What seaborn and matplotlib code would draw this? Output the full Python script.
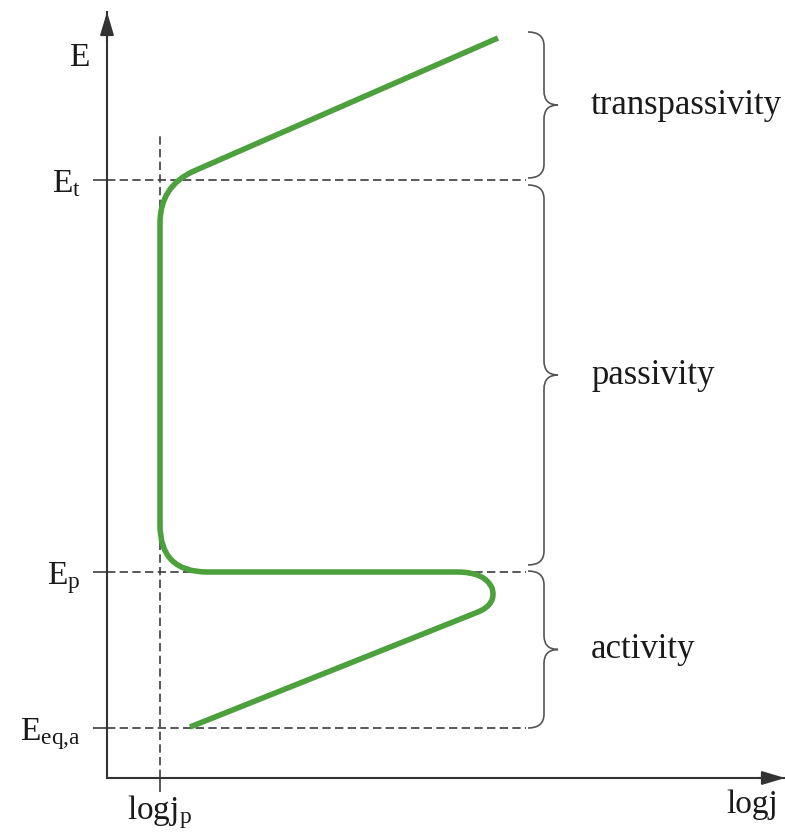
import matplotlib
matplotlib.use("Agg")
import matplotlib.pyplot as plt
from matplotlib.path import Path
from matplotlib.patches import PathPatch
import seaborn as sns

# --- schematic polarization curve (arbitrary units: logj on x, E on y) ---
level_values = [0.50, 2.06, 5.98]                      # E_eq,a, E_p, E_t
level_labels = ["E$_\\mathrm{eq{,}a}$", "E$_\\mathrm{p}$", "E$_\\mathrm{t}$"]
logj_p = 0.53
logj_p_label = "logj$_\\mathrm{p}$"

# curve nodes: straight segments plus quadratic corner controls
curve_x = [0.83, 3.71, 3.90, 3.85, 3.78, 3.50, 1.00, 0.53, 0.53, 0.53, 0.53, 0.87, 3.91]
curve_y = [0.51, 1.66, 1.74, 1.90, 2.06, 2.06, 2.06, 2.06, 2.53, 5.55, 5.92, 6.07, 7.40]
curve_codes = [Path.MOVETO, Path.LINETO, Path.CURVE3, Path.CURVE3, Path.CURVE3, Path.CURVE3,
               Path.LINETO, Path.CURVE3, Path.CURVE3, Path.LINETO, Path.CURVE3, Path.CURVE3,
               Path.LINETO]

# regions marked with braces
region_names = ["transpassivity", "passivity", "activity"]
region_low = [6.00, 2.13, 0.50]
region_high = [7.46, 5.93, 2.07]

guide_end = 4.19
guide_top = 6.45

sns.set_theme(style="white")
plt.rcParams["font.family"] = ["Liberation Serif", "DejaVu Serif"]
plt.rcParams["mathtext.fontset"] = "custom"
plt.rcParams["mathtext.rm"] = "Liberation Serif"
plt.rcParams["mathtext.it"] = "Liberation Serif:italic"

fig = plt.figure(figsize=(7.85, 8.32), dpi=100)
ax = fig.add_axes([107 / 785, 54 / 832, 678 / 785, 766 / 832])
ax.set_xlim(0, 6.78)
ax.set_ylim(0, 7.66)

axis_color = "#333333"
guide_color = "#3c3c3c"
text_color = "#1a1a1a"
dash = (0, (5, 2.6))

# dashed guides
for v in level_values:
    ax.plot([0, guide_end], [v, v], color=guide_color, lw=1.2, linestyle=dash, zorder=1)
ax.plot([logj_p, logj_p], [0, guide_top], color=guide_color, lw=1.2, linestyle=dash, zorder=1)

# polarization curve
curve = Path(list(zip(curve_x, curve_y)), curve_codes)
ax.add_patch(PathPatch(curve, fill=False, edgecolor="#4ca13c", lw=4.0,
                       capstyle="butt", joinstyle="round", zorder=3))


def brace(y0, y1, x0=4.21, xm=4.37, xt=4.51, r=0.14):
    ym = 0.5 * (y0 + y1)
    verts = [(x0, y1), (xm, y1), (xm, y1 - r), (xm, ym + r), (xm, ym), (xt, ym),
             (xm, ym), (xm, ym - r), (xm, y0 + r), (xm, y0), (x0, y0)]
    codes = [Path.MOVETO, Path.CURVE3, Path.CURVE3, Path.LINETO, Path.CURVE3, Path.CURVE3,
             Path.CURVE3, Path.CURVE3, Path.LINETO, Path.CURVE3, Path.CURVE3]
    return Path(verts, codes), ym


for name, lo, hi in zip(region_names, region_low, region_high):
    p, ym = brace(lo, hi)
    ax.add_patch(PathPatch(p, fill=False, edgecolor="#555555", lw=1.2, zorder=2))
    ax.text(4.84, ym, name, fontsize=25, ha="left", va="center", color=text_color)

# axes with arrow heads
sns.despine(ax=ax, top=True, right=True)
for side in ("left", "bottom"):
    ax.spines[side].set_color(axis_color)
    ax.spines[side].set_linewidth(1.5)
arrow = dict(arrowstyle="-|>,head_length=1.4,head_width=0.42", color=axis_color,
             lw=1.5, shrinkA=0, shrinkB=0, mutation_scale=10)
ax.annotate("", xy=(0, 1), xytext=(0, 0.96), xycoords="axes fraction", arrowprops=arrow,
            annotation_clip=False)
ax.annotate("", xy=(1, 0), xytext=(0.96, 0), xycoords="axes fraction", arrowprops=arrow,
            annotation_clip=False)

ax.set_yticks(level_values)
ax.set_yticklabels(level_labels)
ax.set_xticks([logj_p])
ax.set_xticklabels([logj_p_label])
ax.tick_params(axis="both", direction="out", length=10, width=1.2, color=guide_color,
               labelsize=24, labelcolor=text_color, left=True, bottom=True)
ax.tick_params(axis="y", pad=9)
ax.tick_params(axis="x", pad=1)

ax.text(-0.28, 7.20, "E", fontsize=24, ha="center", va="center", color=text_color,
        clip_on=False)
ax.text(6.71, -0.12, "logj", fontsize=24, ha="right", va="top", color=text_color,
        clip_on=False)

fig.savefig("out.png", dpi=100, facecolor="white")
